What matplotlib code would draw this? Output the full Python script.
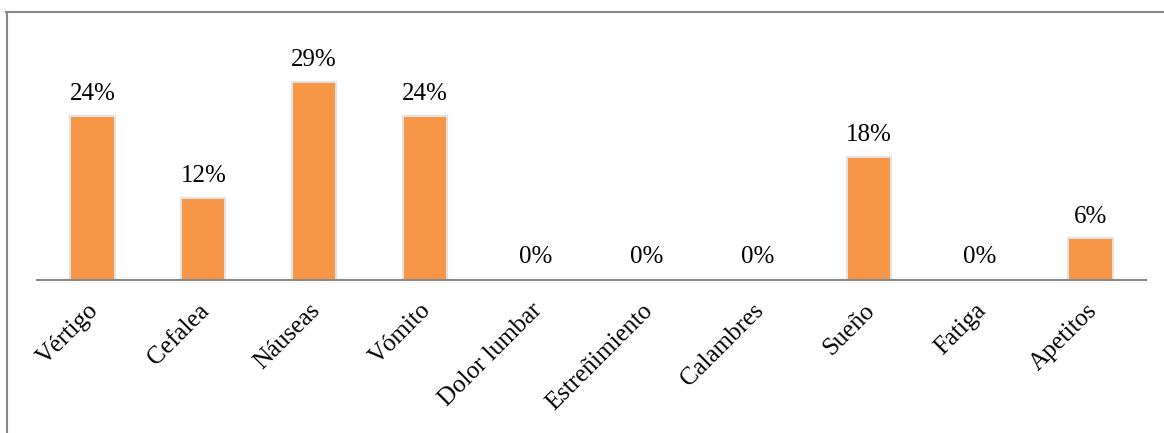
import matplotlib.pyplot as plt
import matplotlib.patheffects as pe
import matplotlib.transforms as mtransforms
from matplotlib.lines import Line2D

# datos
sintomas = ['Vértigo', 'Cefalea', 'Náuseas', 'Vómito', 'Dolor lumbar',
            'Estreñimiento', 'Calambres', 'Sueño', 'Fatiga', 'Apetitos']
porcentajes = [24, 12, 29, 24, 0, 0, 0, 18, 0, 6]

plt.rcParams['font.family'] = ['Liberation Serif', 'DejaVu Serif']

fig = plt.figure(figsize=(11.64, 4.33), dpi=100)
ax = fig.add_axes([37 / 1164, 153 / 433, 1109 / 1164, 237.7 / 433])

x = range(len(sintomas))
bars = ax.bar(x, porcentajes, width=0.38, color='#F79646', zorder=3)
for b, v in zip(bars, porcentajes):
    if v > 0:
        b.set_path_effects([pe.Stroke(linewidth=3, foreground='#e2e2e2'), pe.Normal()])

for i, v in enumerate(porcentajes):
    ax.annotate(f'{v}%', (i, v), xytext=(0, 12), textcoords='offset points',
                ha='center', va='baseline', fontsize=18, color='black')

ax.set_xlim(-0.5, len(sintomas) - 0.5)
ax.set_ylim(0, 35)
ax.set_yticks([])
ax.set_xticks(list(x))
ax.set_xticklabels(sintomas, rotation=45, ha='right', va='top',
                   rotation_mode='anchor', fontsize=18)
ax.tick_params(axis='x', length=0, pad=14)
desplaza = mtransforms.ScaledTranslation(-5 / 100, 0, fig.dpi_scale_trans)
for lbl in ax.get_xticklabels():
    lbl.set_transform(lbl.get_transform() + desplaza)
for s in ['top', 'right', 'left']:
    ax.spines[s].set_visible(False)
ax.spines['bottom'].set_color('#898989')
ax.spines['bottom'].set_linewidth(1.5)
ax.spines['bottom'].set_zorder(4)

# marco del grafico (recortado)
fig.add_artist(Line2D([6 / 1164, 1], [1 - 12 / 433, 1 - 12 / 433],
                      transform=fig.transFigure, color='#888888', linewidth=1.5))
fig.add_artist(Line2D([7 / 1164, 7 / 1164], [0, 1 - 12 / 433],
                      transform=fig.transFigure, color='#888888', linewidth=1.5))

fig.savefig('out.png', dpi=100)
